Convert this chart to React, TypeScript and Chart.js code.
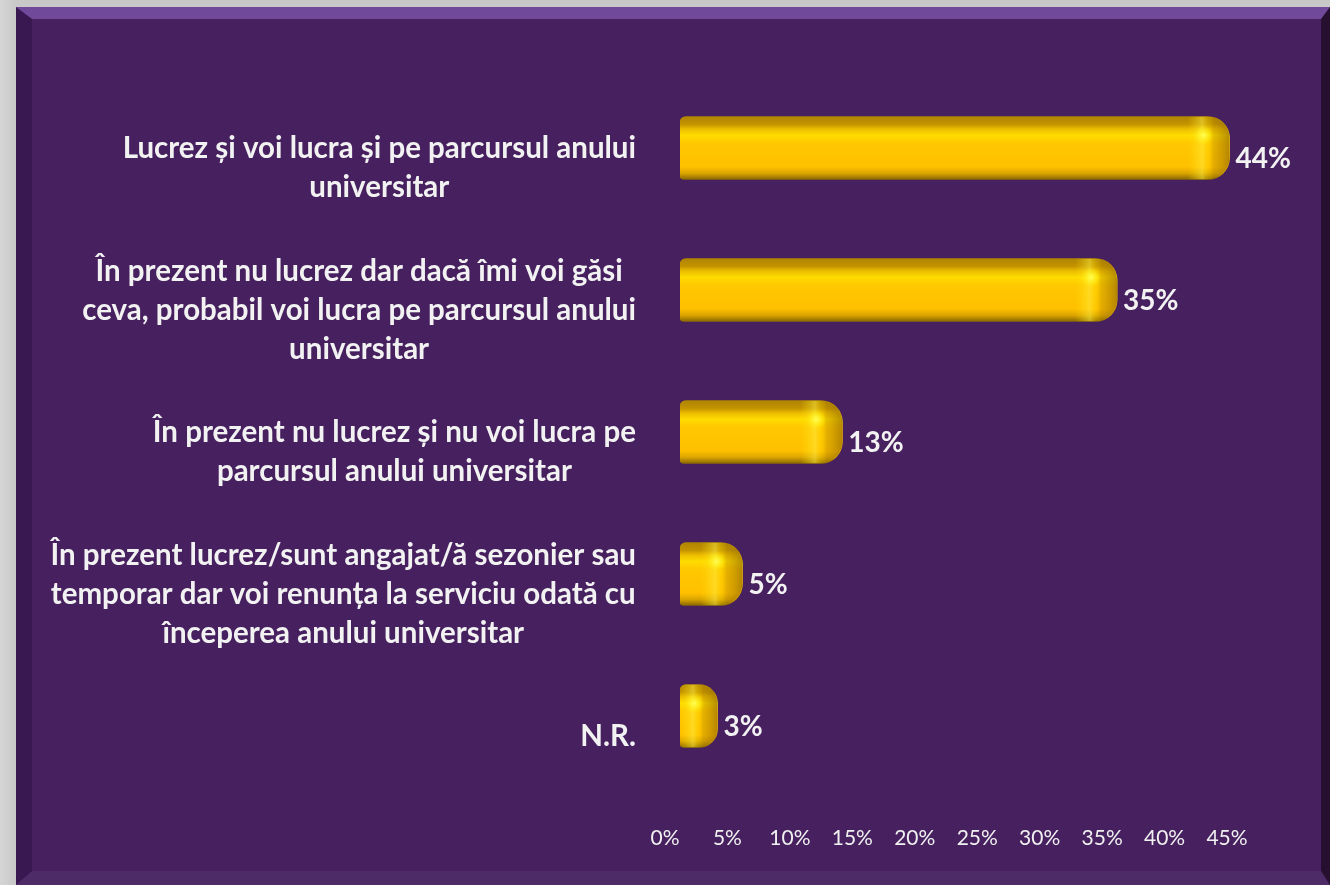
import React, { useEffect, useRef } from "react";
import { Chart, registerables } from "chart.js";

Chart.register(...registerables);

const categories: string[][] = [
  ["Lucrez și voi lucra și pe parcursul anului", "universitar"],
  ["În prezent nu lucrez dar dacă îmi voi găsi", "ceva, probabil voi lucra pe parcursul anului", "universitar"],
  ["În prezent nu lucrez și nu voi lucra pe", "parcursul anului universitar"],
  ["În prezent lucrez/sunt angajat/ă sezonier sau", "temporar dar voi renunța la serviciu odată cu", "începerea anului universitar"],
  ["N.R."],
];
const values: number[] = [44, 35, 13, 5, 3];
const axisMin = 0;
const axisMax = 45;
const axisStep = 5;
const tickSuffix = "%";

const BAR_H = 63;
const FONT = "Lato, 'Open Sans', sans-serif";

const catLabelPlugin = {
  id: "catLabels",
  afterDraw(chart: any) {
    const ys = chart.scales.y;
    const c = chart.ctx as CanvasRenderingContext2D;
    const right = chart.chartArea.left - 44;
    const LH = 39;
    c.save();
    c.font = `bold 29.5px ${FONT}`;
    c.fillStyle = "#f2f2f2";
    c.textAlign = "center";
    c.textBaseline = "middle";
    categories.forEach((lines, i) => {
      const yc = ys.getPixelForValue(i) + 20;
      const widest = Math.max(...lines.map((l) => c.measureText(l).width));
      const cx = right - widest / 2;
      const y0 = yc - ((lines.length - 1) * LH) / 2;
      lines.forEach((l, j) => c.fillText(l, cx, y0 + j * LH));
    });
    c.restore();
  },
};

const barDecorPlugin = {
  id: "barDecor",
  afterDatasetsDraw(chart: any) {
    const meta = chart.getDatasetMeta(0);
    const c = chart.ctx as CanvasRenderingContext2D;
    meta.data.forEach((el: any, i: number) => {
      const { x, y, base, height } = el.getProps(["x", "y", "base", "height"], true);
      if (![x, y, base, height].every((v) => Number.isFinite(v))) return;
      const left = Math.min(x, base);
      const right = Math.max(x, base);
      const top = y - height / 2;
      const w = right - left;
      const r = Math.min(22, w / 2);
      c.save();
      c.beginPath();
      (c as any).roundRect(left, top, w, height, [6, r, r, 4]);
      c.clip();
      const capW = Math.min(42, w);
      const g = c.createLinearGradient(right - capW, 0, right, 0);
      g.addColorStop(0, "rgba(255,230,0,0)");
      g.addColorStop(0.35, "rgba(255,240,70,0.5)");
      g.addColorStop(0.5, "rgba(255,225,0,0.2)");
      g.addColorStop(0.62, "rgba(170,125,0,0.3)");
      g.addColorStop(1, "rgba(130,92,0,0.6)");
      c.fillStyle = g;
      c.fillRect(right - capW, top, capW, height);
      const hx = right - capW * 0.62;
      const hy = top + height * 0.3;
      const rg = c.createRadialGradient(hx, hy, 0, hx, hy, 10);
      rg.addColorStop(0, "rgba(255,255,90,0.95)");
      rg.addColorStop(1, "rgba(255,240,0,0)");
      c.fillStyle = rg;
      c.fillRect(hx - 12, hy - 12, 24, 24);
      c.restore();

      c.save();
      c.font = `bold 28px ${FONT}`;
      c.fillStyle = "#f2f2f2";
      c.textAlign = "left";
      c.textBaseline = "middle";
      c.fillText(`${values[i]}${tickSuffix}`, right + 6, y + 11);
      c.restore();
    });
  },
};

export default function App() {
  const ref = useRef<HTMLCanvasElement | null>(null);

  useEffect(() => {
    if (!ref.current) return;
    const chart = new Chart(ref.current, {
      type: "bar",
      data: {
        labels: categories.map((l) => l.join(" ")),
        datasets: [
          {
            data: values,
            barThickness: BAR_H,
            borderSkipped: false,
            borderRadius: { topLeft: 6, bottomLeft: 4, topRight: 22, bottomRight: 22 },
            backgroundColor: (ctx: any) => {
              const ys = ctx.chart.scales?.y;
              if (ctx.type !== "data" || !ys) return "#FFC000";
              const yc = ys.getPixelForValue(ctx.dataIndex);
              if (!Number.isFinite(yc)) return "#FFC000";
              const g = ctx.chart.ctx.createLinearGradient(0, yc - BAR_H / 2, 0, yc + BAR_H / 2);
              g.addColorStop(0, "#b08400");
              g.addColorStop(0.12, "#c29200");
              g.addColorStop(0.2, "#ecbd00");
              g.addColorStop(0.3, "#ffdc00");
              g.addColorStop(0.42, "#ffc800");
              g.addColorStop(0.8, "#ffc000");
              g.addColorStop(0.9, "#dca500");
              g.addColorStop(1, "#8a6800");
              return g;
            },
          },
        ],
      },
      options: {
        indexAxis: "y",
        animation: false,
        responsive: true,
        maintainAspectRatio: false,
        layout: { padding: { top: 77, right: 88, bottom: 0, left: 0 } },
        plugins: {
          legend: { display: false },
          tooltip: { enabled: false },
        },
        scales: {
          y: {
            type: "category",
            ticks: { display: false },
            grid: { display: false },
            border: { display: false },
            afterFit: (s: any) => {
              s.width = 680;
            },
          },
          x: {
            type: "linear",
            min: axisMin,
            max: axisMax,
            ticks: {
              stepSize: axisStep,
              callback: (v: any) => `${v}${tickSuffix}`,
              color: "#f0f0f0",
              font: { family: FONT, size: 21 },
              padding: 31,
              labelOffset: -15,
              maxRotation: 0,
              autoSkip: false,
            },
            grid: { display: false },
            border: { display: false },
            afterFit: (s: any) => {
              s.height = 98;
            },
          },
        },
      },
      plugins: [catLabelPlugin, barDecorPlugin],
    } as any);
    return () => chart.destroy();
  }, []);

  return (
    <div
      style={{
        position: "absolute",
        left: 0,
        top: 0,
        width: 1330,
        height: 885,
        overflow: "hidden",
        background: "linear-gradient(90deg, #d6d6d6 0px, #c8c8c8 16px)",
      }}
    >
      <div
        style={{
          position: "absolute",
          left: 16,
          top: 7,
          width: 1314,
          height: 878,
          boxSizing: "border-box",
          background: "#47205f",
          borderTop: "12px solid #70499a",
          borderLeft: "16px solid #391851",
          borderRight: "9px solid #27102f",
          borderBottom: "14px solid #4c2b66",
        }}
      />
      <div style={{ position: "absolute", left: 0, top: 0, width: 1330, height: 885 }}>
        <canvas ref={ref} />
      </div>
    </div>
  );
}
